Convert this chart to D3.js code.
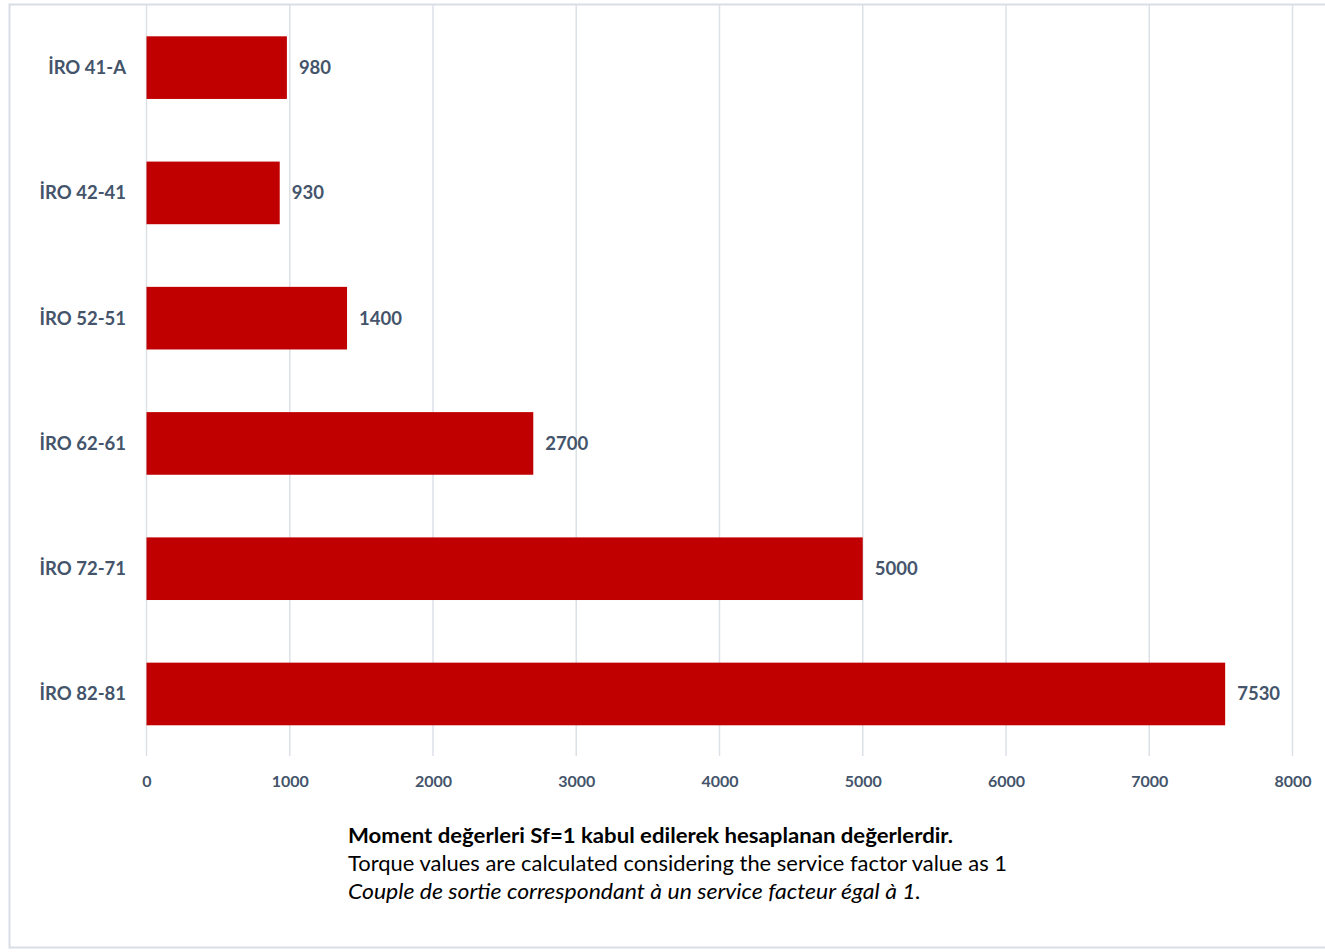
<!DOCTYPE html>
<html>
<head>
<meta charset="utf-8">
<script src="https://cdn.jsdelivr.net/npm/d3@7"></script>
<style>
    body { margin: 0; background: #fff; }
    text { font-family: Lato, "Open Sans", sans-serif; }
</style>
</head>
<body>
<svg id="chart" width="1325" height="952"></svg>
<script>
// chart data
var categories = ["İRO 41-A", "İRO 42-41", "İRO 52-51", "İRO 62-61", "İRO 72-71", "İRO 82-81"];
var torques = [980, 930, 1400, 2700, 5000, 7530];
var tickValues = [0, 1000, 2000, 3000, 4000, 5000, 6000, 7000, 8000];
var notes = [
    "Moment değerleri Sf=1 kabul edilerek hesaplanan değerlerdir.",
    "Torque values are calculated considering the service factor value as 1",
    "Couple de sortie correspondant à un service facteur égal à 1."
];
var noteWidths = [605, 659, 573];

var svg = d3.select("#chart");
var textColor = "#44546A";

// outer frame
svg.append("rect")
        .attr("x", 9.5).attr("y", 4.5)
        .attr("width", 1330).attr("height", 943)
        .attr("fill", "none")
        .attr("stroke", "#D9DEE6")
        .attr("stroke-width", 2);

var x = d3.scaleLinear().domain([0, 8000]).range([146.5, 1292.5]);
var y = d3.scaleBand().domain(categories).range([5, 756.6])
        .paddingInner(0.5).paddingOuter(0.25);

// vertical gridlines
svg.append("g").selectAll("line").data(tickValues).enter()
        .append("line")
        .attr("x1", function (d) { return x(d); })
        .attr("x2", function (d) { return x(d); })
        .attr("y1", 5)
        .attr("y2", 756)
        .attr("stroke", "#DCE1E8")
        .attr("stroke-width", 1.5);

// x axis labels
var xAxis = d3.axisBottom(x).tickValues(tickValues).tickFormat(d3.format("d"))
        .tickSize(0).tickPadding(0);
var gx = svg.append("g").attr("transform", "translate(0,787)").call(xAxis);
gx.select(".domain").remove();
gx.selectAll("text")
        .attr("dy", 0)
        .attr("fill", textColor)
        .style("font-size", "16px")
        .style("font-weight", "bold");

// category labels
var yAxis = d3.axisLeft(y).tickSize(0).tickPadding(0);
var gy = svg.append("g").attr("transform", "translate(126,0)").call(yAxis);
gy.select(".domain").remove();
gy.selectAll("text")
        .attr("dy", "0.35em")
        .attr("fill", textColor)
        .style("font-size", "18.5px")
        .style("font-weight", "bold");

var rows = categories.map(function (c, i) { return {cat: c, val: torques[i]}; });

svg.append("g").selectAll("rect").data(rows).enter()
        .append("rect")
        .attr("x", x(0))
        .attr("y", function (d) { return y(d.cat); })
        .attr("width", function (d) { return x(d.val) - x(0); })
        .attr("height", y.bandwidth())
        .attr("fill", "#C00000");

svg.append("g").selectAll("text").data(rows).enter()
        .append("text")
        .attr("x", function (d) { return x(d.val) + 12; })
        .attr("y", function (d) { return y(d.cat) + y.bandwidth() / 2; })
        .attr("dy", "0.35em")
        .attr("fill", textColor)
        .style("font-size", "18.5px")
        .style("font-weight", "bold")
        .text(function (d) { return d.val; });

// footnote
var styles = [["bold", "normal"], ["normal", "normal"], ["normal", "italic"]];
svg.append("g").selectAll("text").data(notes).enter()
        .append("text")
        .attr("x", 348)
        .attr("y", function (d, i) { return 843 + i * 28; })
        .attr("textLength", function (d, i) { return noteWidths[i]; })
        .attr("lengthAdjust", "spacingAndGlyphs")
        .attr("fill", "#000")
        .style("font-size", "20.5px")
        .style("font-weight", function (d, i) { return styles[i][0]; })
        .style("font-style", function (d, i) { return styles[i][1]; })
        .text(function (d) { return d; });
</script>
</body>
</html>
